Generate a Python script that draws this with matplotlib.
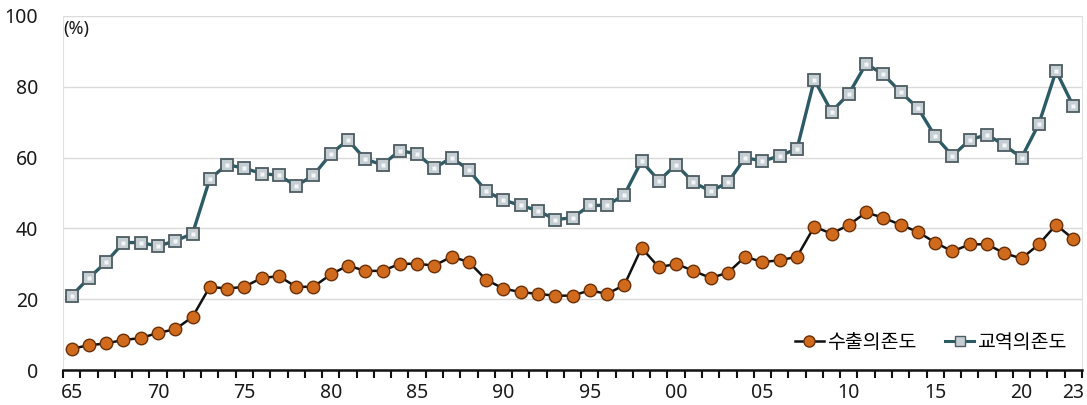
import matplotlib
matplotlib.use("Agg")
import matplotlib.pyplot as plt
from matplotlib.lines import Line2D

plt.rcParams['font.family'] = ['Noto Sans', 'Noto Sans CJK KR', 'DejaVu Sans']

years = list(range(1965, 2024))
tick_labels = {1965: '65', 1970: '70', 1975: '75', 1980: '80', 1985: '85', 1990: '90',
               1995: '95', 2000: '00', 2005: '05', 2010: '10', 2015: '15', 2020: '20', 2023: '23'}

export_dep = [6, 7, 7.5, 8.5, 9, 10.5, 11.5, 15, 23.5, 23, 23.5, 26, 26.5, 23.5, 23.5,
              27, 29.5, 28, 28, 30, 30, 29.5, 32, 30.5, 25.5, 23, 22, 21.5, 21, 21,
              22.5, 21.5, 24, 34.5, 29, 30, 28, 26, 27.5, 32, 30.5, 31, 32, 40.5, 38.5,
              41, 44.5, 43, 41, 39, 36, 33.5, 35.5, 35.5, 33, 31.5, 35.5, 41, 37]
trade_dep = [21, 26, 30.5, 36, 36, 35, 36.5, 38.5, 54, 58, 57, 55.5, 55, 52, 55,
             61, 65, 59.5, 58, 62, 61, 57, 60, 56.5, 50.5, 48, 46.5, 45, 42.5, 43,
             46.5, 46.5, 49.5, 59, 53.5, 58, 53, 50.5, 53, 60, 59, 60.5, 62.5, 82, 73,
             78, 86.5, 83.5, 78.5, 74, 66, 60.5, 65, 66.5, 63.5, 60, 69.5, 84.5, 74.5]
series_names = ['수출의존도', '교역의존도']

fig = plt.figure(figsize=(10.87, 4.05), dpi=100)
ax = fig.add_axes([63/1087, (405-370)/405, (1082-63)/1087, (370-16)/405])

ax.set_xlim(years[0]-0.5, years[-1]+0.5)
ax.set_ylim(0, 100)

for y in [20, 40, 60, 80, 100]:
    ax.axhline(y, color='#DADADA', lw=1.0, zorder=0)

orange_face = '#D06A1C'
orange_edge = '#6B3008'
sq_face = '#C5CED3'
sq_edge = '#4C5C62'

ax.plot(years, trade_dep, color='#2B5C66', lw=2.4, zorder=2)
ax.plot(years, trade_dep, ls='none', marker='s', ms=8.5, mfc=sq_face, mec=sq_edge, mew=1.3, zorder=3)
ax.plot(years, trade_dep, ls='none', marker='s', ms=3.5, mfc='#F4F7F8', mec='none', zorder=4)

ax.plot(years, export_dep, color='#111111', lw=1.8, zorder=2)
ax.plot(years, export_dep, ls='none', marker='o', ms=9, mfc=orange_face, mec=orange_edge, mew=1.0, zorder=3)

ax.set_yticks([0, 20, 40, 60, 80, 100])
ax.tick_params(axis='y', length=0, labelsize=14, colors='#1A1A1A', pad=18)

ax.set_xticks([y - 0.5 for y in years] + [years[-1] + 0.5], minor=True)
ax.set_xticks(list(tick_labels.keys()))
ax.set_xticklabels(list(tick_labels.values()))
ax.tick_params(axis='x', which='major', length=0, labelsize=14, colors='#1A1A1A', pad=9)
ax.tick_params(axis='x', which='minor', length=6, width=1.5, color='#111111', direction='out')

ax.spines['top'].set_visible(False)
ax.spines['right'].set_color('#E0E0E0')
ax.spines['left'].set_color('#E0E0E0')
ax.spines['bottom'].set_color('#111111')
ax.spines['bottom'].set_linewidth(1.8)

ax.text(0.0, 0.99, '(%)', transform=ax.transAxes, fontsize=13, va='top', ha='left',
        color='#1A1A1A', fontweight='semibold')

h1 = Line2D([], [], color='#111111', lw=1.8, marker='o', ms=8, mfc=orange_face, mec=orange_edge)
h2 = Line2D([], [], color='#2B5C66', lw=2.2, marker='s', ms=7.5, mfc=sq_face, mec=sq_edge)
ax.legend([h1, h2], series_names, loc='center right', bbox_to_anchor=(0.985, 0.076), frameon=False,
          fontsize=14, ncol=2, handlelength=1.5, handletextpad=0.15, columnspacing=1.5,
          borderaxespad=0, borderpad=0)

fig.savefig('out.png', dpi=100)
